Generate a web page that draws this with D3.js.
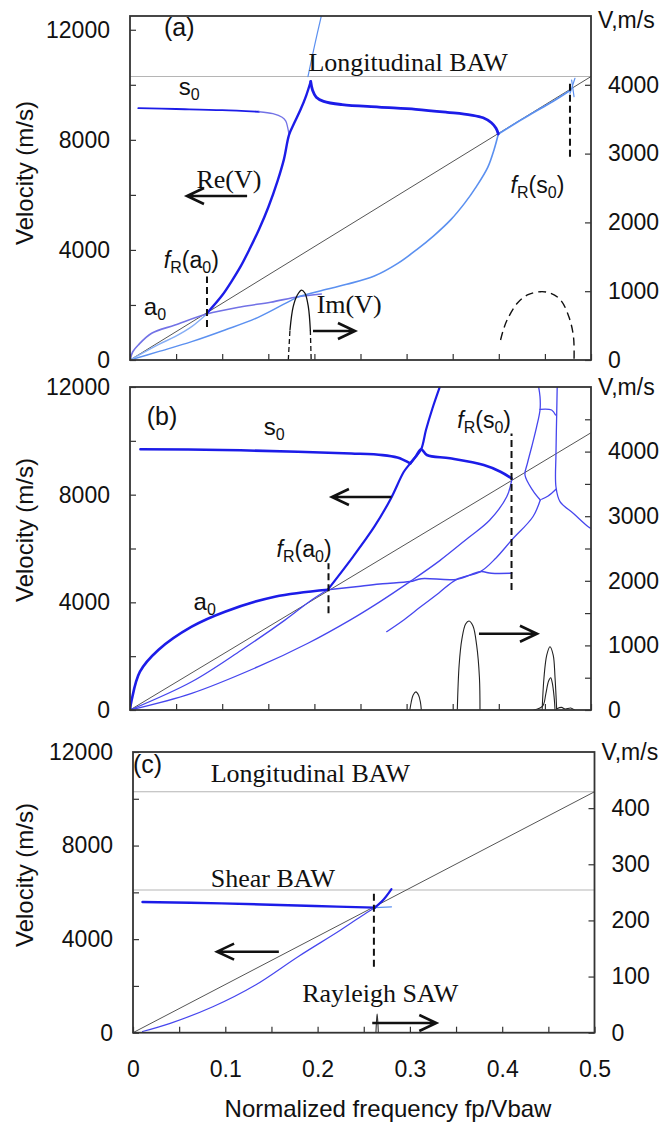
<!DOCTYPE html>
<html><head><meta charset="utf-8">
<script src="https://cdn.jsdelivr.net/npm/d3@7/dist/d3.min.js"></script>
<style>
body{margin:0;background:#fff;}
svg text{font-family:"Liberation Sans",Arial,Helvetica,sans-serif;fill:#111;}
svg text.serif{font-family:"Liberation Serif","Times New Roman",serif;}
</style></head><body>
<svg id="chart" width="667" height="1124"></svg>
<script>
// ---------------- DATA (f = normalized frequency, V in m/s) ----------------
const xMajorTicks = [0, 0.1, 0.2, 0.3, 0.4, 0.5];
const xMinorTicks = [0,0.05,0.1,0.15,0.2,0.25,0.3,0.35,0.4,0.45,0.5];
const leftMajorTicks = [0, 4000, 8000, 12000];
const leftMinorTicks = [2000, 6000, 10000];
const rightTicksAB = [0, 1000, 2000, 3000, 4000];
const rightMinorB = [500, 1500, 2500, 3500, 4500];
const rightTicksC = [0, 100, 200, 300, 400];
const longitudinalBAW = 10300;
const shearBAW = 6100;
const lightLine = [[0, 0], [0.5, 10300]];   // V = f * 2 * Vbaw

// Panel (a) Re(V)
const aS0Flat  = [[0.009,9150],[0.05,9120],[0.1,9080],[0.14,9020]];
const aS0Dip   = [[0.14,9020],[0.155,8950],[0.165,8820],[0.169,8680],[0.171,8450],[0.1725,8180]];
const aSteep   = [[0.0835,1700],[0.1,2350],[0.11,2850],[0.12,3400],[0.13,4050],[0.14,4750],[0.15,5550],[0.16,6500],[0.167,7300],[0.1725,8180],[0.178,8600],[0.185,9100],[0.191,9600],[0.196,10120]];
const aS0Right = [[0.196,10120],[0.198,9800],[0.202,9550],[0.21,9400],[0.23,9280],[0.27,9190],[0.31,9110],[0.344,9000],[0.37,8900],[0.383,8800],[0.392,8620],[0.397,8420],[0.3995,8213]];
const aLoopLow = [[0.1825,2300],[0.205,2500],[0.235,2750],[0.265,3050],[0.29,3500],[0.311,4010],[0.33,4530],[0.348,5100],[0.363,5700],[0.376,6320],[0.388,7000],[0.395,7660],[0.3995,8213]];
const aDiagRun = [[0.3995,8213],[0.423,8700],[0.441,9060],[0.459,9400],[0.4772,9790]];
const aCross1  = [[0.4772,9690],[0.4826,10237]];
const aCross2  = [[0.479,10175],[0.4816,9570]];
const aUpper   = [[0.193,10300],[0.2,11400],[0.2075,12500]];
const aA0      = [[0,0],[0.003,300],[0.009,545],[0.0235,970],[0.0488,1272],[0.0832,1672],[0.121,1937],[0.1525,2100],[0.1825,2300],[0.2075,2400]];
const aNearDiag= [[0,0],[0.0307,560],[0.0488,848],[0.0669,1211],[0.0832,1672]];
const aLowest  = [[0,0],[0.0307,303],[0.0669,666],[0.103,1090],[0.139,1550],[0.1753,2180],[0.1825,2300]];
// Panel (a) Im(V) (right axis)
const aImArch  = [[0.1735,436],[0.177,775],[0.1815,945],[0.1862,1017],[0.1898,970],[0.1934,775],[0.1956,436]];
const aImFeetL = [[0.1717,0],[0.1735,436]];
const aImFeetR = [[0.1956,436],[0.1965,0]];
const aImDash  = [[0.4019,291],[0.405,440],[0.409,581],[0.42,824],[0.431,945],[0.4453,993],[0.4563,970],[0.467,872],[0.476,629],[0.481,339],[0.4816,0]];
const aFrA0 = [0.0835, 1200, 3030];
const aFrS0 = [0.4772, 7390, 10150];

// Panel (b) Re(V)
const bS0      = [[0.0113,9690],[0.1,9660],[0.182,9595],[0.24,9530],[0.274,9470],[0.29,9380],[0.297,9285],[0.304,9164]];
const bS0Right = [[0.304,9164],[0.31,9420],[0.3158,9684],[0.322,9473],[0.347,9350],[0.3837,9100],[0.4018,8852],[0.4138,8607]];
const bA0      = [[0,0],[0.0018,371],[0.0108,1424],[0.0307,2229],[0.0669,3095],[0.103,3652],[0.157,4210],[0.2145,4470]];
const bSteep   = [[0.2145,4470],[0.242,5700],[0.265,6810],[0.283,7860],[0.297,8850],[0.304,9164],[0.31,9420],[0.3158,9684],[0.321,10400],[0.328,11200],[0.336,12000]];
const bA0Cont  = [[0.2145,4470],[0.25,4600],[0.274,4690],[0.3037,4770],[0.316,4880],[0.354,4850],[0.38,5140],[0.392,5080],[0.414,5080]];
const bNearDiag= [[0,0],[0.0669,1050],[0.121,2230],[0.168,3340],[0.197,4090],[0.2145,4470]];
const bLower   = [[0,0],[0.0669,620],[0.139,1610],[0.193,2480],[0.2386,3340],[0.27,4000],[0.3037,4770],[0.336,5550],[0.367,6400],[0.39,7050],[0.4086,7920],[0.414,8540]];
const bMid     = [[0.2784,2910],[0.295,3300],[0.3145,3814],[0.335,4350],[0.3543,4854],[0.38,5140],[0.397,5650],[0.414,6315],[0.437,7180],[0.445,7800]];
const bUpper   = [[0.445,7800],[0.437,8150],[0.4284,8730],[0.431,9160],[0.4357,9780],[0.441,10520],[0.4447,11145],[0.4447,11640],[0.4418,12260]];
const bLink    = [[0.4447,11170],[0.4573,11145],[0.4615,10960]];
const bRight   = [[0.4635,12300],[0.4628,11000],[0.462,9500],[0.462,8295],[0.4664,7740],[0.481,7300],[0.497,6810],[0.5,6750]];
const bBranch  = [[0.462,8200],[0.4535,7950],[0.4465,7830]];
// Panel (b) Im(V)
const bIm1 = [[0.3035,0],[0.305,120],[0.307,230],[0.31,280],[0.313,230],[0.315,120],[0.316,0]];
const bIm2 = [[0.355,0],[0.357,700],[0.36,1100],[0.364,1330],[0.3677,1378],[0.372,1300],[0.376,1000],[0.379,500],[0.3796,0]];
const bIm3 = [[0.447,0],[0.449,500],[0.452,850],[0.4555,980],[0.459,850],[0.461,500],[0.4628,0]];
const bIm4 = [[0.438,0],[0.4475,60],[0.451,250],[0.454,450],[0.4563,500],[0.458,420],[0.46,200],[0.461,0]];
const bIm5 = [[0.463,20],[0.468,40],[0.472,15],[0.478,30],[0.482,0]];
const bFrA0 = [0.2153, 3590, 5450];
const bFrS0 = [0.4138, 4460, 10275];

// Panel (c)
const cFlat     = [[0.0103,5590],[0.0957,5530],[0.197,5415],[0.262,5345]];
const cFlatThin = [[0.262,5345],[0.28,5380]];
const cSteep    = [[0.262,5345],[0.272,5720],[0.28,6140]];
const cCurve    = [[0.0103,50],[0.0403,400],[0.0865,1110],[0.1327,2040],[0.1788,3250],[0.225,4390],[0.2527,5120],[0.262,5345]];
const cIm       = [[0.2632,0],[0.2638,20],[0.2645,33],[0.2652,20],[0.2658,0]];
const cFr = [0.261, 2820, 6100];

// ---------------- DRAW ----------------
const svg = d3.select('#chart');
const defs = svg.append('defs');
const C = {thick:'#1c1ce8', thin:'#4646ee', purple:'#7272e6', light:'#5b90f0', pale:'#86aef5', gray:'#b5b5b5', diag:'#555'};

function makePanel(cfg){
  const x = d3.scaleLinear().domain([0,0.5]).range([cfg.x0,cfg.x1]);
  const y = d3.scaleLinear().domain([0,cfg.yMax]).range([cfg.bottom,cfg.top]);
  const yr = d3.scaleLinear().domain([0,cfg.rMax]).range([cfg.bottom,cfg.top]);
  defs.append('clipPath').attr('id','clip'+cfg.id).append('rect')
    .attr('x',cfg.x0).attr('y',cfg.top).attr('width',cfg.x1-cfg.x0).attr('height',cfg.bottom-cfg.top);
  const g = svg.append('g');
  const plot = g.append('g').attr('clip-path',`url(#clip${cfg.id})`);
  const ax = g.append('g');
  const styleAxis = s => { s.select('.domain').remove(); s.selectAll('line').attr('stroke','#333').attr('stroke-width',1.2); s.selectAll('text').attr('font-size',23).attr('fill','#111').attr('font-family','"Liberation Sans",Arial,sans-serif'); };
  ax.append('g').attr('transform',`translate(${cfg.x0},0)`).call(d3.axisLeft(y).tickValues(leftMajorTicks).tickSize(-6).tickPadding(20).tickFormat(d3.format('d'))).call(styleAxis);
  ax.append('g').attr('transform',`translate(${cfg.x0},0)`).call(d3.axisLeft(y).tickValues(leftMinorTicks).tickSize(-6).tickFormat('')).call(styleAxis);
  ax.append('g').attr('transform',`translate(${cfg.x1},0)`).call(d3.axisRight(yr).tickValues(cfg.rTicks).tickSize(-6).tickPadding(17).tickFormat(d3.format('d'))).call(styleAxis);
  if (cfg.rMinor.length) ax.append('g').attr('transform',`translate(${cfg.x1},0)`).call(d3.axisRight(yr).tickValues(cfg.rMinor).tickSize(-6).tickFormat('')).call(styleAxis);
  ax.append('g').attr('transform',`translate(0,${cfg.bottom})`).call(d3.axisBottom(x).tickValues(xMinorTicks).tickSize(-6).tickFormat('')).call(styleAxis);
  if (cfg.xLabels) ax.append('g').attr('transform',`translate(0,${cfg.bottom})`).call(d3.axisBottom(x).tickValues(xMajorTicks).tickSize(0).tickPadding(28).tickFormat(d => d===0 ? '0' : d3.format('.1f')(d))).call(styleAxis);
  g.append('rect').attr('x',cfg.x0).attr('y',cfg.top).attr('width',cfg.x1-cfg.x0).attr('height',cfg.bottom-cfg.top)
    .attr('fill','none').attr('stroke','#333').attr('stroke-width',1.8);
  g.append('text').attr('x',cfg.x1+7).attr('y',cfg.vmsY).attr('font-size',23).text('V,m/s');
  g.append('text').attr('transform',`translate(33,${cfg.labelY}) rotate(-90)`).attr('text-anchor','middle').attr('font-size',24).text('Velocity (m/s)');
  return {g, plot, x, y, yr};
}

function line(P, data, scaleY, color, width, dash){
  const gen = d3.line().x(d => P.x(d[0])).y(d => scaleY(d[1])).curve(d3.curveCatmullRom.alpha(0.5));
  const p = P.plot.append('path').datum(data).attr('d',gen).attr('fill','none')
    .attr('stroke',color).attr('stroke-width',width).attr('stroke-linejoin','round').attr('stroke-linecap','round');
  if (dash) p.attr('stroke-dasharray',dash).attr('stroke-linecap','butt');
  return p;
}
function hline(P, v, color){
  P.plot.append('line').attr('x1',P.x(0)).attr('x2',P.x(0.5)).attr('y1',P.y(v)).attr('y2',P.y(v)).attr('stroke',color).attr('stroke-width',1.1);
}
function vdash(P, spec){
  P.plot.append('line').attr('x1',P.x(spec[0])).attr('x2',P.x(spec[0])).attr('y1',P.y(spec[1])).attr('y2',P.y(spec[2]))
   .attr('stroke','#111').attr('stroke-width',2).attr('stroke-dasharray','7,4');
}
function arrow(P, f1, f2, v){
  const x1=P.x(f1), x2=P.x(f2), yy=P.y(v), s = x2 < x1 ? 1 : -1;
  P.g.append('path').attr('d',`M${x1},${yy}H${x2}M${x2+s*17},${yy-8}L${x2},${yy}L${x2+s*17},${yy+8}`)
   .attr('fill','none').attr('stroke','#111').attr('stroke-width',2.6);
}
function label(P, f, v, parts, opts={}){
  const t = P.g.append('text').attr('x',P.x(f)).attr('y',P.y(v)).attr('font-size',opts.size||23);
  if (opts.serif) t.attr('class','serif');
  let shifted = false;
  parts.forEach(p => {
    const sp = t.append('tspan').text(p.t);
    if (p.sub){ sp.attr('font-size',16).attr('dy', shifted?0:5); shifted = true; }
    else { if (shifted){ sp.attr('dy',-5); shifted=false; } }
    if (p.it) sp.attr('font-style','italic');
  });
  return t;
}
const frLabel = m => [{t:'f',it:true},{t:'R',sub:true},{t:'('+m},{t:'0',sub:true},{t:')'}];

// ---- Panel (a)
const A = makePanel({id:'a',x0:130,x1:591,top:16,bottom:360,yMax:12500,rMax:5000,rTicks:rightTicksAB,rMinor:[],xLabels:false,vmsY:28,labelY:173});
hline(A, longitudinalBAW, C.gray);
line(A, lightLine, A.y, C.diag, 1);
line(A, aLowest, A.y, C.light, 1.4);
line(A, aNearDiag, A.y, C.pale, 1.4);
line(A, aA0, A.y, C.purple, 1.6);
line(A, aLoopLow, A.y, C.light, 1.6);
line(A, aDiagRun, A.y, C.light, 1.8);
line(A, aCross1, A.y, C.light, 1.2);
line(A, aCross2, A.y, C.light, 1.2);
line(A, aUpper, A.y, C.light, 1.2);
line(A, aS0Flat, A.y, C.thick, 1.8);
line(A, aS0Dip, A.y, C.purple, 1.3);
line(A, aSteep, A.y, C.thick, 2.4);
line(A, aS0Right, A.y, C.thick, 2.8);
line(A, aImArch, A.yr, '#111', 1.3);
line(A, aImFeetL, A.yr, '#111', 1.3, '5,3');
line(A, aImFeetR, A.yr, '#111', 1.3, '5,3');
line(A, aImDash, A.yr, '#111', 1.4, '8,5');
vdash(A, aFrA0); vdash(A, aFrS0);
label(A, 0.0369, 11770, [{t:'(a)'}], {size:25});
label(A, 0.1936, 10515, [{t:'Longitudinal BAW'}], {serif:true, size:26});
label(A, 0.0528, 9630, [{t:'s'},{t:'0',sub:true}], {size:24});
label(A, 0.015, 1635, [{t:'a'},{t:'0',sub:true}], {size:24});
label(A, 0.0367, 3340, frLabel('a'), {size:23});
label(A, 0.4128, 6070, frLabel('s'), {size:23});
label(A, 0.072, 6250, [{t:'Re(V)'}], {serif:true, size:26});
label(A, 0.2025, 1708, [{t:'Im(V)'}], {serif:true, size:26});
arrow(A, 0.127, 0.0618, 5960);
arrow(A, 0.1985, 0.244, 1054);

// ---- Panel (b)
const B = makePanel({id:'b',x0:130,x1:591,top:387,bottom:710,yMax:12000,rMax:5000,rTicks:rightTicksAB,rMinor:rightMinorB,xLabels:false,vmsY:395,labelY:530});
line(B, lightLine, B.y, C.diag, 1);
[bNearDiag, bLower, bMid, bUpper, bLink, bRight, bBranch].forEach(d => line(B, d, B.y, C.thin, 1.3));
line(B, bA0Cont, B.y, C.thin, 1.5);
line(B, bS0, B.y, C.thick, 2.6);
line(B, bS0Right, B.y, C.thick, 2.6);
line(B, bA0, B.y, C.thick, 2.6);
line(B, bSteep, B.y, C.thick, 2.2);
[bIm1, bIm2, bIm3, bIm4, bIm5].forEach(d => line(B, d, B.yr, '#222', 1.1));
vdash(B, bFrA0); vdash(B, bFrS0);
label(B, 0.0182, 10590, [{t:'(b)'}], {size:25});
label(B, 0.1451, 10215, [{t:'s'},{t:'0',sub:true}], {size:24});
label(B, 0.069, 3715, [{t:'a'},{t:'0',sub:true}], {size:24});
label(B, 0.159, 5680, frLabel('a'), {size:23});
label(B, 0.355, 10475, frLabel('s'), {size:23});
arrow(B, 0.2836, 0.219, 7912);
arrow(B, 0.3785, 0.4414, 2834);

// ---- Panel (c)
const Cp = makePanel({id:'c',x0:133,x1:594.5,top:752,bottom:1032.7,yMax:12000,rMax:500,rTicks:rightTicksC,rMinor:[],xLabels:true,vmsY:760,labelY:875});
hline(Cp, longitudinalBAW, C.gray);
hline(Cp, shearBAW, C.gray);
line(Cp, lightLine, Cp.y, C.diag, 1);
line(Cp, cCurve, Cp.y, C.thin, 1.2);
line(Cp, cFlatThin, Cp.y, C.light, 1.3);
line(Cp, cFlat, Cp.y, C.thick, 2.4);
line(Cp, cSteep, Cp.y, C.thick, 2.2);
line(Cp, cIm, Cp.yr, '#333', 1.1);
vdash(Cp, cFr);
label(Cp, 0.0, 11100, [{t:'(c)'}], {size:25});
label(Cp, 0.0842, 10730, [{t:'Longitudinal BAW'}], {serif:true, size:26});
label(Cp, 0.0842, 6240, [{t:'Shear BAW'}], {serif:true, size:26});
label(Cp, 0.1833, 1325, [{t:'Rayleigh SAW'}], {serif:true, size:26});
arrow(Cp, 0.158, 0.0911, 3463);
arrow(Cp, 0.2592, 0.3286, 415);

svg.append('text').attr('x',388).attr('y',1117).attr('text-anchor','middle').attr('font-size',24).text('Normalized frequency fp/Vbaw');
</script>
</body></html>
